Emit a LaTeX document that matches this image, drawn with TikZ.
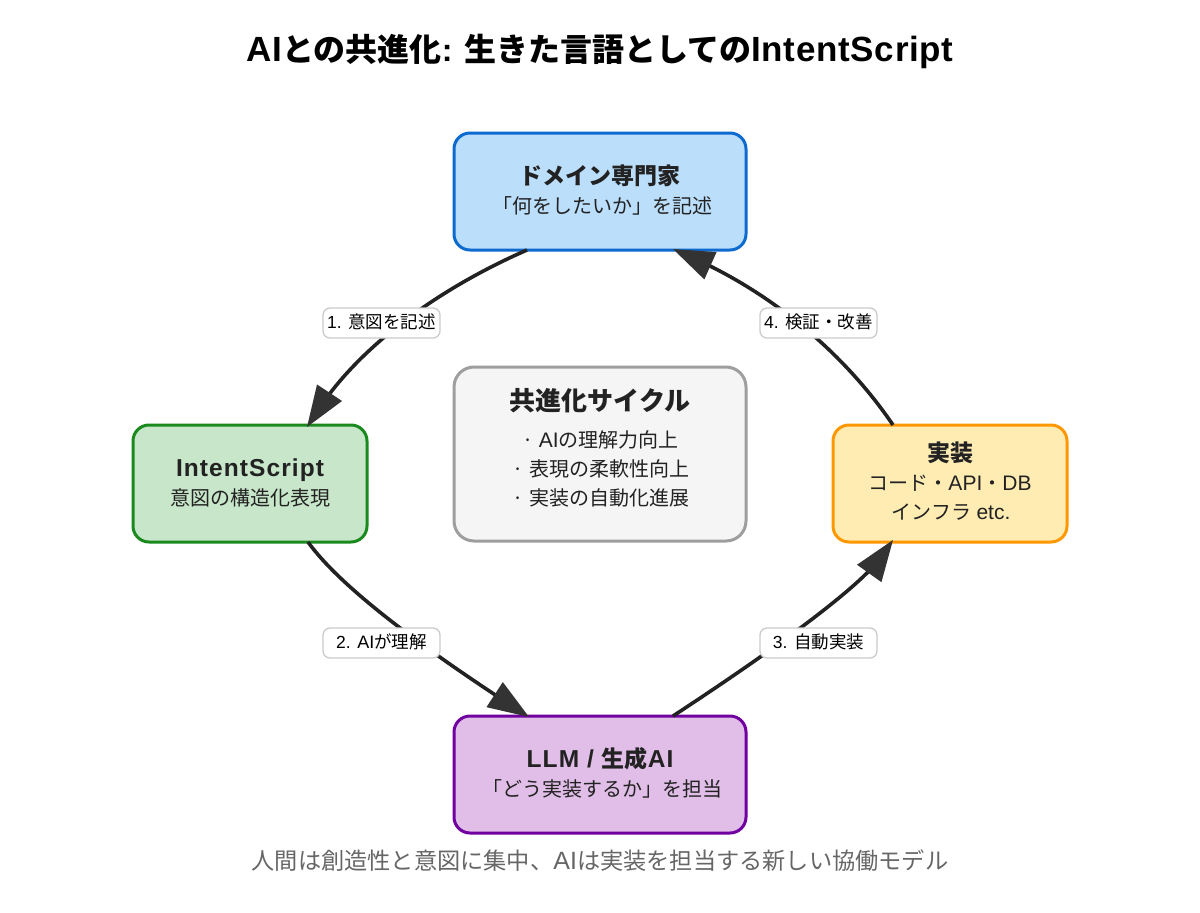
\documentclass[tikz,border=0pt]{standalone}
\usepackage{fontspec}
\setmainfont{Liberation Sans}
\newfontfamily\cjk{Noto Sans CJK JP}
\newcommand{\J}[1]{{\cjk #1}}
\newcommand{\fs}[1]{\fontsize{#1}{#1}\selectfont}
\newcommand{\TL}[1]{{\fs{35}\addfontfeature{LetterSpace=2}#1}}
\newcommand{\HL}[1]{{\fs{24.5}\addfontfeature{LetterSpace=4.4}#1}}
\newcommand{\SL}[1]{{\fs{21}#1}}
\newcommand{\CL}[1]{{\fs{25}#1}}
\newcommand{\PL}[1]{{\fs{18}#1}}
\usetikzlibrary{arrows.meta,decorations.markings}
\definecolor{ink}{HTML}{222222}
\definecolor{tipc}{HTML}{333333}
\definecolor{bluestroke}{HTML}{0D6BD0}
\definecolor{bluefill}{HTML}{BBDEFB}
\definecolor{greenstroke}{HTML}{1B8A1E}
\definecolor{greenfill}{HTML}{C8E6C9}
\definecolor{yellowstroke}{HTML}{FF9800}
\definecolor{yellowfill}{HTML}{FFECB3}
\definecolor{purplestroke}{HTML}{7000A0}
\definecolor{purplefill}{HTML}{E1BEE7}
\definecolor{graystroke}{HTML}{9E9E9E}
\definecolor{grayfill}{HTML}{F5F5F5}
\definecolor{pillstroke}{HTML}{CCCCCC}
\definecolor{capt}{HTML}{666666}
\tikzset{
  card/.style={draw=#1,line width=3pt,rounded corners=16pt,inner sep=0pt,outer sep=0pt},
  bluebox/.style={card=bluestroke,fill=bluefill,minimum width=292pt,minimum height=117pt},
  greenbox/.style={card=greenstroke,fill=greenfill,minimum width=234pt,minimum height=117pt},
  yellowbox/.style={card=yellowstroke,fill=yellowfill,minimum width=234pt,minimum height=117pt},
  purplebox/.style={card=purplestroke,fill=purplefill,minimum width=292pt,minimum height=117pt},
  graybox/.style={card=graystroke,fill=grayfill,minimum width=292pt,minimum height=174pt,rounded corners=20pt},
  txt/.style={anchor=base,inner sep=0pt,text=ink},
  head/.style={txt,font=\fs{23}\bfseries},
  sub/.style={txt,font=\fs{20}},
  pill/.style={draw=pillstroke,fill=white,line width=1.3pt,rounded corners=7pt,minimum width=117pt,minimum height=30pt,inner sep=0pt,text height=13.5pt,text depth=3pt,text=black,font=\fs{17.5}},
  flow/.style={draw=ink,line width=3.6pt,shorten >=22pt,postaction={decorate},
    decoration={markings,mark=at position 0.9999 with {\arrow{Triangle[length=41pt,width=30pt,line width=0pt,fill=tipc,color=tipc]}}}},
}
\begin{document}
\begin{tikzpicture}[x=1pt,y=-1pt]
\useasboundingbox (0,0) rectangle (1200,913);
\fill[white] (0,0) rectangle (1200,913);
\node[txt,font=\fs{32}\bfseries,text=black] (title) at (600,61) {\TL{AI}\J{との共進化}: \J{生きた言語としての}\TL{IntentScript}};

\node[bluebox] (blue) at (600,191.5) {};
\node[greenbox] (green) at (250,483.5) {};
\node[yellowbox] (yellow) at (950,483.5) {};
\node[purplebox] (purple) at (600,774.5) {};
\node[graybox] (gray) at (600,454) {};

\node[head] (blueh) at (600,184) {\J{ドメイン専門家}};
\node[sub] (blues) at (602,213) {\J{「何をしたいか」を記述}};
\node[head] (greenh) at (250,476) {\HL{IntentScript}};
\node[sub] (greens) at (250,505) {\J{意図の構造化表現}};
\node[head] (yellowh) at (950,461) {\J{実装}};
\node[sub] (yellows) at (950,490) {\J{コード・}\SL{API}\J{・}\SL{DB}};
\node[sub] (yellowt) at (951,519) {\J{インフラ} \SL{etc.}};
\node[head] (purpleh) at (600,767.5) {\HL{LLM / }\J{生成}\HL{AI}};
\node[sub] (purples) at (602,796) {\J{「どう実装するか」を担当}};
\node[txt,font=\fs{26}\bfseries] (grayh) at (600,410) {\J{共進化サイクル}};
\node[sub] (gray1) at (600.5,447) {\J{·} \SL{AI}\J{の理解力向上}};
\node[sub] (gray2) at (601,476) {\J{·} \J{表現の柔軟性向上}};
\node[sub] (gray3) at (601,505) {\J{·} \J{実装の自動化進展}};
\node[txt,font=\fs{23.2},text=capt] (caption) at (600,869) {\J{人間は創造性と意図に集中、}\CL{AI}\J{は実装を担当する新しい協働モデル}};

\draw[flow] ([xshift=73pt]blue.south west) .. controls (431,292) and (357,351) .. ([xshift=174pt,yshift=-2pt]green.north west);
\draw[flow] ([xshift=175pt]green.south west) .. controls (339,585) and (414,642) .. ([xshift=75pt,yshift=-1pt]purple.north west);
\draw[flow] ([xshift=-73pt]purple.north east) .. controls (786,642) and (861,585) .. ([xshift=-174pt,yshift=2pt]yellow.south east);
\draw[flow] ([xshift=-174pt]yellow.north east) .. controls (842,350) and (769,292) .. ([xshift=-73pt,yshift=1pt]blue.south east);

\node[pill] (l1) at (381.5,323) {1. \J{意図を記述}};
\node[pill] (l2) at (381.5,643) {2. \PL{AI}\J{が理解}};
\node[pill] (l3) at (818.5,643) {3. \J{自動実装}};
\node[pill] (l4) at (818.5,323) {4. \J{検証・改善}};
\end{tikzpicture}
\end{document}
